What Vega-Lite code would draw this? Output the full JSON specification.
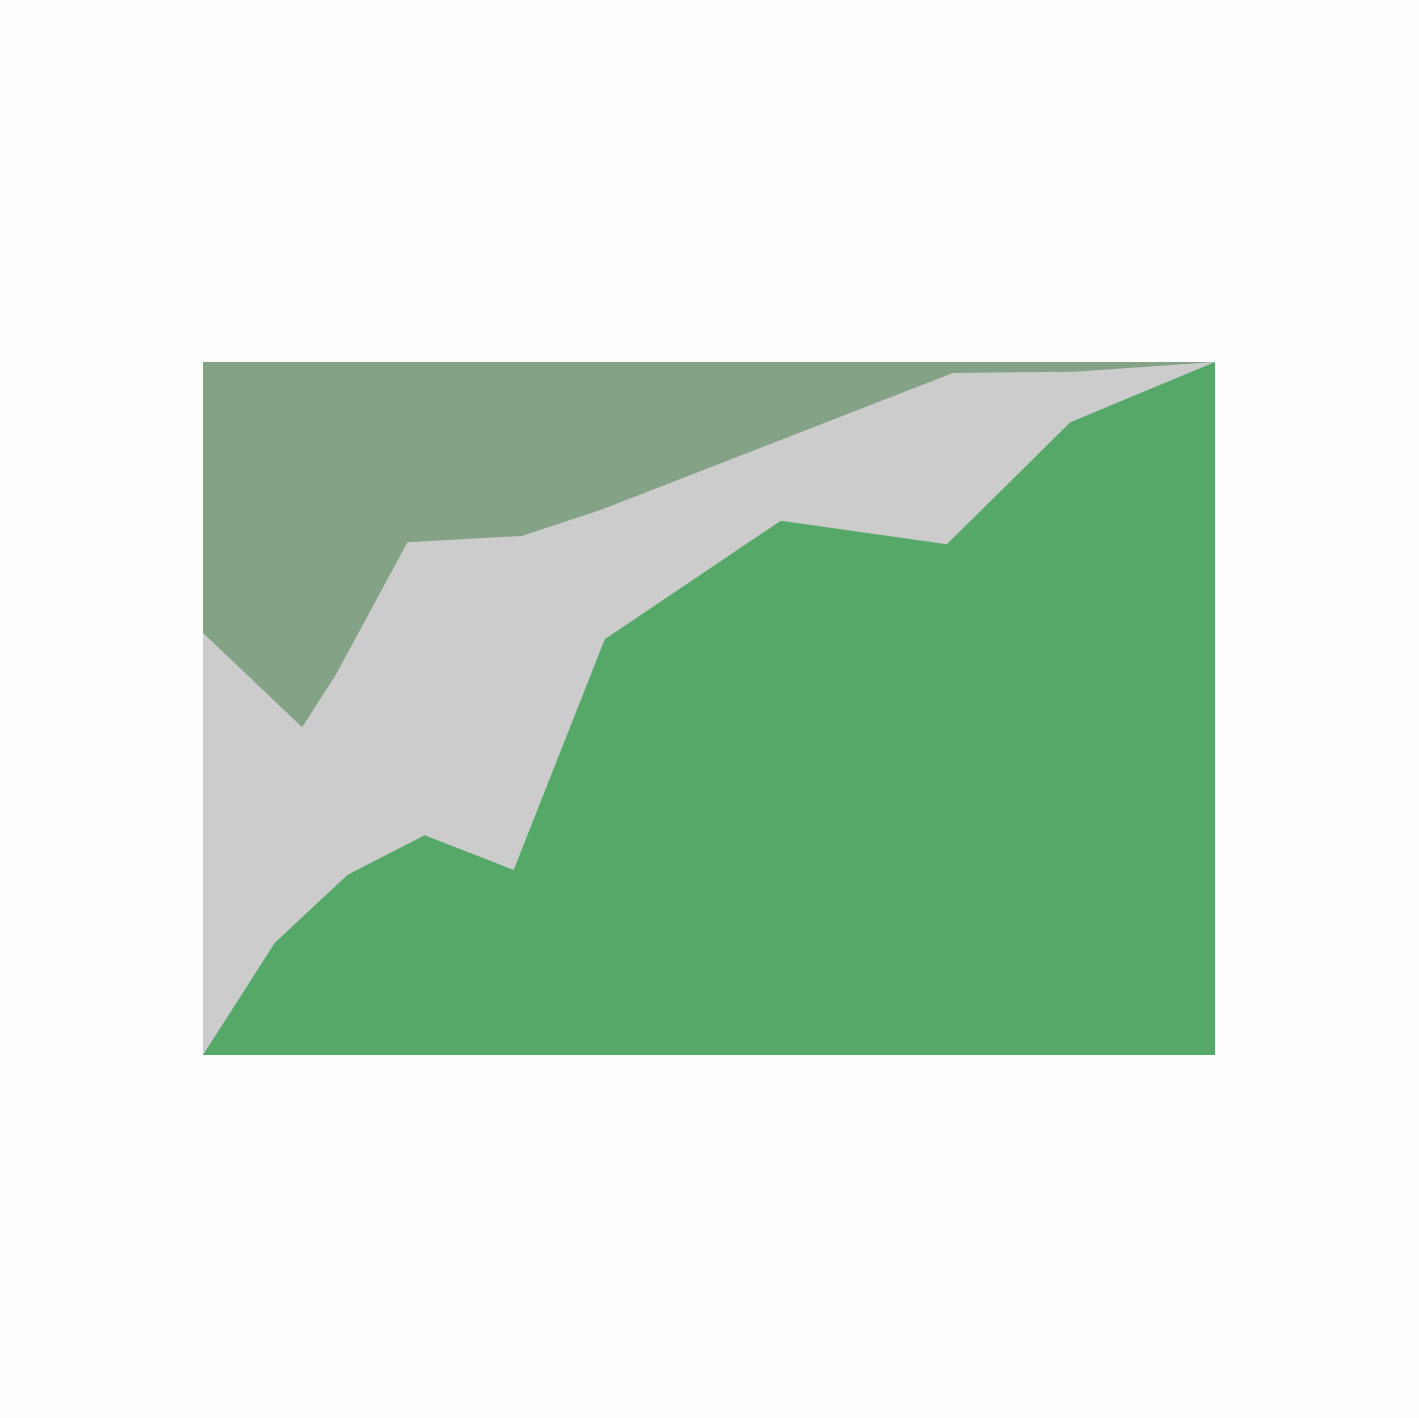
{
  "$schema": "https://vega.github.io/schema/vega-lite/v6.json",
  "width": 1012,
  "height": 693,
  "autosize": {"type": "none"},
  "padding": {"left": 203, "top": 362, "right": 204, "bottom": 363},
  "background": "#fdfdfd",
  "config": {
    "view": {
      "stroke": null
    }
  },
  "data": {
    "values": [
      {"series": "C", "t": 0, "v": 1},
      {"series": "C", "t": 100, "v": 1},
      {"series": "B", "t": 0, "v": 0.609},
      {"series": "B", "t": 9.8, "v": 0.473},
      {"series": "B", "t": 13.1, "v": 0.548},
      {"series": "B", "t": 20.2, "v": 0.74},
      {"series": "B", "t": 31.5, "v": 0.749},
      {"series": "B", "t": 39.2, "v": 0.786},
      {"series": "B", "t": 74.1, "v": 0.984},
      {"series": "B", "t": 86.1, "v": 0.986},
      {"series": "B", "t": 100, "v": 1},
      {"series": "A", "t": 0, "v": 0},
      {"series": "A", "t": 7.1, "v": 0.162},
      {"series": "A", "t": 14.3, "v": 0.26},
      {"series": "A", "t": 21.9, "v": 0.317},
      {"series": "A", "t": 30.7, "v": 0.267},
      {"series": "A", "t": 39.7, "v": 0.6},
      {"series": "A", "t": 57.1, "v": 0.771},
      {"series": "A", "t": 73.5, "v": 0.737},
      {"series": "A", "t": 85.7, "v": 0.913},
      {"series": "A", "t": 100, "v": 1}
    ]
  },
  "mark": {
    "type": "area",
    "opacity": 1,
    "interpolate": "linear"
  },
  "encoding": {
    "x": {
      "field": "t",
      "type": "quantitative",
      "scale": {"domain": [0, 100], "nice": false},
      "axis": null
    },
    "y": {
      "field": "v",
      "type": "quantitative",
      "stack": null,
      "scale": {"domain": [0, 1], "nice": false},
      "axis": null
    },
    "color": {
      "field": "series",
      "type": "nominal",
      "scale": {"domain": ["C", "B", "A"], "range": ["#84a386", "#cccccc", "#55a868"]},
      "legend": null
    }
  }
}
